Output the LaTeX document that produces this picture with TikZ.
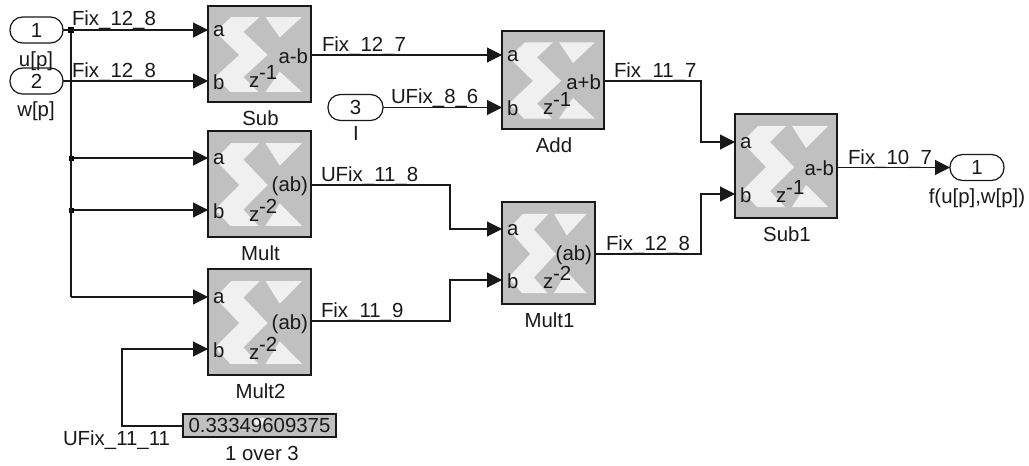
\documentclass[tikz,border=0pt]{standalone}
\usepackage{fontspec}
\setmainfont{Liberation Sans}
\usetikzlibrary{arrows.meta,calc}
\definecolor{blk}{RGB}{192,192,192}
\definecolor{logo}{RGB}{240,240,240}
\definecolor{ink}{RGB}{25,25,25}
\tikzset{
 x=1pt,y=-1pt,
 every node/.style={font=\fontsize{20.4}{22}\selectfont,text=ink,inner sep=0pt,outer sep=0pt},
 sysblock/.style={draw=ink,line width=1.3pt,fill=blk,anchor=north west},
 port/.style={draw=ink,line width=1.2pt,fill=white,rounded corners=12.5pt,minimum height=26pt},
 wire/.style={draw=ink,line width=1.1pt},
 arrowwire/.style={wire,-{Triangle[length=15pt,width=15pt]}},
 dotn/.style={fill=black,minimum size=6pt},
 sig/.style={anchor=base west},
 caption/.style={anchor=base},
}
% name, x, y, w, h, out text, latency, a y (abs), b y (abs)
\newcommand{\xblock}[9]{%
 \node[sysblock,minimum width=#4pt,minimum height=#5pt] (#1) at (#2,#3) {};
 \begin{scope}[shift={(#2,#3)},xscale=#4/102,yscale=#5/104]
  \fill[logo] (23,12) -- (51,12) -- (35,28) -- (59,53) -- (35,77) -- (50,93) -- (22,93) -- (7,77) -- (31,53) -- (7,28) -- cycle;
  \fill[logo] (57,12) -- (93,12) -- (71,34) -- cycle;
  \fill[logo] (71,71) -- (93,93) -- (57,93) -- cycle;
 \end{scope}
 \node[anchor=west] (#1a) at ($(#2,#8)+(5,1)$) {a};
 \node[anchor=west] (#1b) at ($(#2,#9)+(5,1)$) {b};
 \node[anchor=east] (#1o) at ($(#1.north east)+(-3,#5*0.52)$) {#6};
 \node[anchor=base west] (#1z) at ($(#1.north west)+(41,#5*0.85)$) {z\raisebox{8pt}{-#7}};
 \node[caption] (#1c) at ($(#1.south)+(1,23)$) {#1};
}
\begin{document}
\begin{tikzpicture}
\useasboundingbox (0,0) rectangle (1029,466);
\fill[white] (0,0) rectangle (1029,466);
\xblock{Sub}{208}{6}{103}{96}{a-b}{1}{30}{81}
\xblock{Mult}{208}{131}{103}{106}{(ab)}{2}{158}{210}
\xblock{Mult2}{208}{269}{103}{106}{(ab)}{2}{297}{349}
\xblock{Add}{502}{31}{102}{98}{a+b}{1}{55}{107}
\xblock{Mult1}{502}{202}{93}{102}{(ab)}{2}{229}{280}
\xblock{Sub1}{735}{114}{102}{104}{a-b}{1}{142}{194}
% ports
\node[port,minimum width=53pt] (in1) at (36.5,30) {1};
\node[port,minimum width=53pt] (in2) at (36.5,81) {2};
\node[port,minimum width=55pt] (in3) at (355.5,107.5) {3};
\node[port,minimum width=54pt] (out1) at (977,167.5) {1};
\node[caption] (l1) at (36,66) {u[p]};
\node[caption] (l2) at (36,116) {w[p]};
\node[caption] (l3) at (356,140) {I};
\node[caption] (l4) at (977,203) {f(u[p],w[p])};
% constant
\node[draw=ink,line width=1.2pt,fill=blk,minimum width=153pt,minimum height=23pt] (cst) at (259.5,425.5) {};
\fill[logo] (252,418) -- (268,418) -- (262,425) -- (256,425) -- cycle;
\node (cstt) at (259.5,425.5) {0.33349609375};
\node[caption] (cstl) at (262,460) {1 over 3};
% junctions
\node[dotn] (j1) at (71,30) {};
\node[dotn,minimum size=5pt] (j2) at (71,158) {};
\node[dotn,minimum size=5pt] (j3) at (71,210) {};
\coordinate (jc) at (71,297);
% wires
\draw[arrowwire] (in1.east) -- (Sub.west |- j1);
\draw[arrowwire] (in2.east) -- (Sub.west |- in2);
\draw[wire] (j1) -- (jc);
\draw[arrowwire] (j2) -- (Mult.west |- j2);
\draw[arrowwire] (j3) -- (Mult.west |- j3);
\draw[arrowwire] (jc) -- (Mult2.west |- jc);
\coordinate (k1) at (122,426);
\coordinate (k2) at (122,349);
\draw[arrowwire] (cst.west |- k1) -- (k1) -- (k2) -- (Mult2.west |- k2);
\coordinate (e1) at (311,55);
\draw[arrowwire] (e1) -- (Add.west |- e1);
\draw[arrowwire] (in3.east) -- (Add.west |- in3);
\coordinate (a0) at (311,185);\coordinate (a1) at (450,185);\coordinate (a2) at (450,229);
\draw[arrowwire] (a0) -- (a1) -- (a2) -- (Mult1.west |- a2);
\coordinate (b0) at (311,321);\coordinate (b1) at (450,321);\coordinate (b2) at (450,280);
\draw[arrowwire] (b0) -- (b1) -- (b2) -- (Mult1.west |- b2);
\coordinate (c0) at (604,81);\coordinate (c1) at (701,81);\coordinate (c2) at (701,142);
\draw[arrowwire] (c0) -- (c1) -- (c2) -- (Sub1.west |- c2);
\coordinate (d0) at (595,254);\coordinate (d1) at (701,254);\coordinate (d2) at (701,194);
\draw[arrowwire] (d0) -- (d1) -- (d2) -- (Sub1.west |- d2);
\draw[arrowwire] (Sub1.east |- out1) -- (out1.west);
% labels
\node[sig] (s1) at (72,25) {Fix\_12\_8};
\node[sig] (s2) at (72,77) {Fix\_12\_8};
\node[sig] (s3) at (322,51) {Fix\_12\_7};
\node[sig] (s4) at (391,103) {UFix\_8\_6};
\node[sig] (s5) at (321,181) {UFix\_11\_8};
\node[sig] (s6) at (321,317) {Fix\_11\_9};
\node[sig] (s7) at (614,77) {Fix\_11\_7};
\node[sig] (s8) at (606,250) {Fix\_12\_8};
\node[sig] (s9) at (848,164) {Fix\_10\_7};
\node[sig] (s10) at (63,445) {UFix\_11\_11};
\end{tikzpicture}
\end{document}
